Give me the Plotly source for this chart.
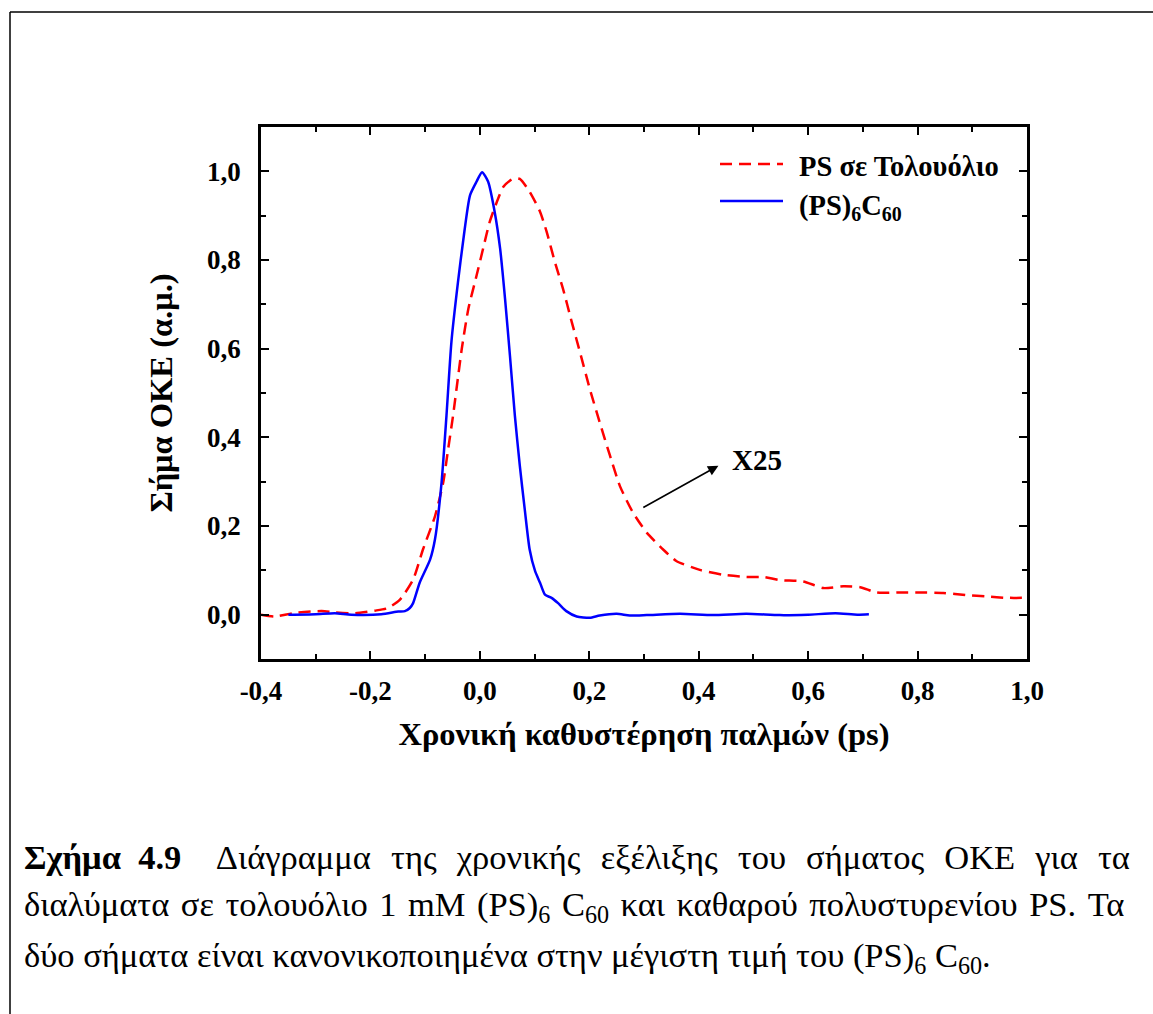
import plotly.graph_objects as go

# ---------------- data ----------------
ps_x = [-0.400, -0.375, -0.338, -0.289, -0.265, -0.228, -0.192, -0.168, -0.146, -0.122,
        -0.104, -0.082, -0.067, -0.058, -0.049, -0.033, -0.021, -0.006, 0.006, 0.018,
        0.031, 0.043, 0.061, 0.073, 0.091, 0.110, 0.122, 0.137, 0.152, 0.168,
        0.183, 0.201, 0.219, 0.238, 0.256, 0.280, 0.305, 0.335, 0.359, 0.402,
        0.445, 0.487, 0.518, 0.548, 0.591, 0.628, 0.664, 0.695, 0.725, 0.768,
        0.804, 0.847, 0.890, 0.926, 0.963, 1.000]
ps_y = [0.000, -0.004, 0.004, 0.008, 0.005, 0.003, 0.009, 0.015, 0.034, 0.079,
        0.147, 0.222, 0.298, 0.373, 0.449, 0.600, 0.690, 0.765, 0.826, 0.886,
        0.931, 0.965, 0.984, 0.983, 0.954, 0.909, 0.864, 0.796, 0.735, 0.660,
        0.592, 0.509, 0.434, 0.358, 0.290, 0.230, 0.185, 0.147, 0.121, 0.101,
        0.090, 0.085, 0.085, 0.078, 0.075, 0.060, 0.064, 0.062, 0.050, 0.050,
        0.050, 0.049, 0.044, 0.041, 0.038, 0.038]

c60_x = [-0.350, -0.300, -0.265, -0.235, -0.180, -0.149, -0.137, -0.128, -0.122, -0.110,
         -0.091, -0.082, -0.070, -0.061, -0.052, -0.040, -0.030, -0.018, -0.006, 0.004,
         0.015, 0.027, 0.037, 0.046, 0.055, 0.064, 0.073, 0.082, 0.091, 0.101,
         0.110, 0.119, 0.131, 0.143, 0.158, 0.177, 0.201, 0.219, 0.250, 0.274,
         0.305, 0.366, 0.426, 0.487, 0.548, 0.600, 0.650, 0.690, 0.711]
c60_y = [0.000, 0.001, 0.003, 0.000, 0.001, 0.007, 0.008, 0.015, 0.026, 0.072,
         0.124, 0.170, 0.298, 0.449, 0.615, 0.750, 0.848, 0.946, 0.977, 0.998,
         0.977, 0.909, 0.826, 0.713, 0.584, 0.449, 0.336, 0.238, 0.147, 0.098,
         0.072, 0.045, 0.038, 0.026, 0.008, -0.004, -0.007, -0.002, 0.002, -0.002,
         -0.001, 0.002, -0.001, 0.002, -0.001, 0.000, 0.003, 0.000, 0.001]

series_names = ["PS σε Τολουόλιο", "(PS)<sub>6</sub>C<sub>60</sub>"]
x_title = "Χρονική καθυστέρηση παλμών (ps)"
y_title = "Σήμα OKE (α.μ.)"
x_ticks = [-0.4, -0.2, 0.0, 0.2, 0.4, 0.6, 0.8, 1.0]
x_tick_labels = ["-0,4", "-0,2", "0,0", "0,2", "0,4", "0,6", "0,8", "1,0"]
y_ticks = [0.0, 0.2, 0.4, 0.6, 0.8, 1.0]
y_tick_labels = ["0,0", "0,2", "0,4", "0,6", "0,8", "1,0"]
caption_words = [
    ["<b>Σχήμα</b>", "<b>4.9</b>", "", "Διάγραμμα", "της", "χρονικής", "εξέλιξης", "του",
     "σήματος", "OKE", "για", "τα"],
    ["διαλύματα", "σε", "τολουόλιο", "1", "mM", "(PS)<sub>6</sub>", "C<sub>60</sub>", "και",
     "καθαρού", "πολυστυρενίου", "PS.", "Τα"],
    ["δύο", "σήματα", "είναι", "κανονικοποιημένα", "στην", "μέγιστη", "τιμή", "του",
     "(PS)<sub>6</sub>", "C<sub>60</sub>."],
]

# ---------------- layout geometry ----------------
W, H = 1153, 1014
L, R, T, B = 261, 1027, 127, 659
PW, PH = R - L, B - T


def px(X):
    return (X - L) / PW


def py(Y):
    return (B - Y) / PH


FONT = "Liberation Serif, DejaVu Serif, serif"

fig = go.Figure()
fig.add_trace(go.Scatter(x=ps_x, y=ps_y, mode="lines", name=series_names[0],
                         line=dict(color="#FF0000", width=2.5, dash="12px,7px", shape="spline",
                                   smoothing=0.6),
                         showlegend=False))
fig.add_trace(go.Scatter(x=c60_x, y=c60_y, mode="lines", name=series_names[1],
                         line=dict(color="#0000FF", width=2.5, shape="spline", smoothing=0.6),
                         showlegend=False))

axis_common = dict(
    showline=True, linecolor="black", linewidth=2.5, mirror="ticks",
    ticks="inside", ticklen=8, tickwidth=2, tickcolor="black",
    showgrid=False, zeroline=False,
    tickfont=dict(family=FONT, size=27, color="black", weight="bold"),
    minor=dict(ticks="inside", ticklen=5, tickwidth=1.5, tickcolor="black", showgrid=False),
)

fig.update_xaxes(range=[-0.4, 1.0], tickvals=x_ticks, ticktext=x_tick_labels,
                 minor_dtick=0.1, ticklabelstandoff=6,
                 title=dict(text=x_title, font=dict(family=FONT, size=32.5, color="black", weight="bold"),
                            standoff=18),
                 **axis_common)
fig.update_yaxes(range=[-0.1, 1.1], tickvals=y_ticks, ticktext=y_tick_labels,
                 minor_dtick=0.1, ticklabelstandoff=12,
                 title=dict(text=y_title, font=dict(family=FONT, size=32.5, color="black", weight="bold"),
                            standoff=25),
                 **axis_common)

shapes = []
annotations = []

# legend (manual, to match sample length)
shapes.append(dict(type="line", xref="paper", yref="paper", x0=px(720), x1=px(783),
                   y0=py(164), y1=py(164), line=dict(color="#FF0000", width=2.5, dash="12px,7px")))
shapes.append(dict(type="line", xref="paper", yref="paper", x0=px(720), x1=px(783),
                   y0=py(201), y1=py(201), line=dict(color="#0000FF", width=2.5)))
annotations.append(dict(xref="paper", yref="paper", x=px(797), y=py(166), xanchor="left",
                        yanchor="middle", showarrow=False, text="<b>" + series_names[0] + "</b>",
                        font=dict(family=FONT, size=28.5, color="black")))
annotations.append(dict(xref="paper", yref="paper", x=px(797), y=py(207), xanchor="left",
                        yanchor="middle", showarrow=False, text="<b>" + series_names[1] + "</b>",
                        font=dict(family=FONT, size=28.5, color="black")))

# arrow and X25 label
annotations.append(dict(x=0.436, y=0.336, ax=0.296, ay=0.240, xref="x", yref="y",
                        axref="x", ayref="y", showarrow=True, arrowhead=2, arrowsize=1.3,
                        arrowwidth=1.6, arrowcolor="black", text=""))
annotations.append(dict(x=0.457, y=0.349, xref="x", yref="y", xanchor="left", yanchor="middle",
                        showarrow=False, text="<b>X25</b>",
                        font=dict(family=FONT, size=29, color="black")))

# caption (lines 1-2 justified with widened word gaps)
line_gaps = [
    [" \u2005"] * 3 + [" \u2005\u200a"] * 8,
    [" \u200a"] * 11,
    [" "] * 9,
]
cap_y = [857, 907, 957]
for words, gaps, yy in zip(caption_words, line_gaps, cap_y):
    text = words[0]
    for g, w in zip(gaps, words[1:]):
        text += g + w
    annotations.append(dict(xref="paper", yref="paper", x=px(22), y=py(yy), xanchor="left",
                            yanchor="middle", showarrow=False, text=text,
                            font=dict(family=FONT, size=34.5, color="black")))

# outer page frame
shapes.append(dict(type="line", xref="paper", yref="paper", x0=px(10), x1=px(1160),
                   y0=py(12), y1=py(12), line=dict(color="black", width=1.5)))
shapes.append(dict(type="line", xref="paper", yref="paper", x0=px(10), x1=px(10),
                   y0=py(12), y1=py(1020), line=dict(color="black", width=1.5)))

fig.update_layout(
    width=W, height=H, autosize=False,
    margin=dict(l=L, r=W - R, t=T, b=H - B, pad=0),
    paper_bgcolor="white", plot_bgcolor="white",
    font=dict(family=FONT, color="black"),
    shapes=shapes, annotations=annotations,
)

fig.write_html("out.html")
